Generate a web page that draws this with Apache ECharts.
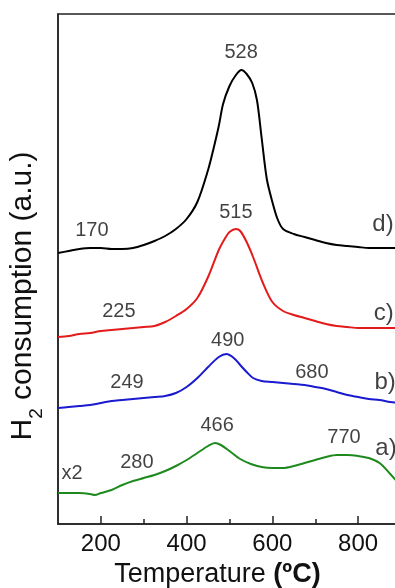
<!DOCTYPE html>
<html>
<head>
<meta charset="utf-8">
<script src="https://cdn.jsdelivr.net/npm/echarts@6/dist/echarts.min.js"></script>
<style>html,body{margin:0;padding:0;background:#fff;}#c{width:395px;height:588px;}</style>
</head>
<body>
<div id="c"></div>
<script>
// Temperatures (ºC) and H2 consumption (a.u.) per sample
const tempD = [100,125,150,175,200,225,250,275,300,325,350,375,400,425,450,462,475,485,500,515,528,540,553,564,575,587,600,612,625,650,675,700,725,750,775,800,825,850,875,900];
const valD  = [271,273,275,276,276,275,275,276,279,283,288,295,305,322,354,374,398,420,438,449,454,450,441,424,386,345,322,305,295,290,287,284,281,279,278,277,276,276,276,276];

const tempC = [100,125,150,175,200,225,250,275,300,325,350,375,400,425,450,475,490,500,515,525,540,555,578,600,625,650,675,700,725,750,775,800,825,850,875,900];
const valC  = [187,188,190,191,193,194,195,196,197,198,202,208,215,226,247,274,286,292,295,293,282,267,241,222,213,209,206,203,200,198,197,196,196,196,196,196];

const tempB = [100,125,150,175,200,225,250,275,300,325,350,375,400,425,450,475,493,510,525,540,555,575,600,625,650,675,700,725,750,775,800,825,850,875,900];
const valB  = [116,117,118,119,121,123,124,125,126,127,128,131,137,146,157,167,170,166,159,152,146,143,142,141,140,139,137,135,132,129,127,125,124,122,121];

const tempA = [100,125,150,175,186,200,225,250,275,300,325,350,375,400,425,450,466,480,500,525,550,575,600,625,650,675,700,725,750,775,800,825,850,875,900];
const valA  = [31,31,31,30,29,31,34,39,43,46,49,53,58,64,71,78,81,79,73,65,60,57,56,56,58,61,64,67,69,69,68,66,61,50,38];

// Annotations: [temperature, value, text]
const peakLabels = [
  [527,472,'528'],[179,294,'170'],
  [515,312,'515'],[242,213,'225'],
  [496,184,'490'],[261,142,'249'],[692,152,'680'],
  [471,99,'466'],[767,87,'770'],[284,62,'280'],[133,51,'x2']
];
const curveLabels = [[858,300,'d)'],[860,211,'c)'],[863,142,'b)'],[865,76,'a)']];

const majorTicks = [200,400,600,800];
const minorTicks = [300,500,700];

const font = 'Liberation Sans, Arial, sans-serif';
const ink = '#111111';
const pairs = (t,v) => t.map((x,i)=>[x,v[i]]);
const lineSeries = (t,v,color) => ({
  type:'line', data:pairs(t,v), showSymbol:false, smooth:0.3,
  lineStyle:{color:color,width:2}, itemStyle:{color:color}, animation:false, z:3
});
const textSeries = (arr,size) => ({
  type:'scatter', data:arr, symbolSize:1, itemStyle:{color:'rgba(0,0,0,0)'},
  label:{show:true, position:'inside', formatter:p=>p.data[2], fontSize:size, color:ink, fontFamily:font},
  animation:false, z:4, silent:true
});

const chart = echarts.init(document.getElementById('c'), null, {renderer:'canvas'});
chart.setOption({
  backgroundColor:'#fff',
  animation:false,
  grid:{left:58, right:-6, top:14, bottom:64, containLabel:false, outerBoundsMode:'none',
        show:true, borderColor:'#222', borderWidth:1.5, backgroundColor:'transparent'},
  xAxis:[{
    type:'value', min:100, max:900, interval:100,
    name:'{n|Temperature }{b|(ºC)}', nameLocation:'middle', nameGap:36,
    nameTextStyle:{padding:[0,24,0,0], rich:{n:{fontSize:27,fontFamily:font,color:ink},b:{fontSize:27,fontFamily:font,color:ink,fontWeight:'bold'}}},
    axisLine:{show:true, lineStyle:{color:'#222',width:1.5}},
    axisTick:{show:true, inside:true, length:8, customValues:majorTicks, lineStyle:{color:'#222',width:1.5}},
    axisLabel:{show:true, customValues:majorTicks, fontSize:24, color:ink, fontFamily:font, margin:8},
    splitLine:{show:false}
  },{
    type:'value', min:100, max:900, interval:100, position:'bottom',
    axisLine:{show:false},
    axisTick:{show:true, inside:true, length:5, customValues:minorTicks, lineStyle:{color:'#222',width:1.5}},
    axisLabel:{show:false}, splitLine:{show:false}
  }],
  yAxis:{
    type:'value', min:0, max:510,
    name:'{m|H}{s|2}{m| consumption (a.u.)}', nameLocation:'middle', nameGap:12,
    nameTextStyle:{padding:[0,54,0,0], rich:{
      m:{fontSize:30, lineHeight:47, fontFamily:font, color:ink},
      s:{fontSize:19, lineHeight:18, padding:[29,0,0,0], fontFamily:font, color:ink}
    }},
    axisLine:{show:true, lineStyle:{color:'#222',width:1.5}},
    axisTick:{show:false}, axisLabel:{show:false}, splitLine:{show:false}
  },
  series:[
    lineSeries(tempA,valA,'#1e8a1e'),
    lineSeries(tempB,valB,'#1a1ad0'),
    lineSeries(tempC,valC,'#e31b1b'),
    lineSeries(tempD,valD,'#000000'),
    textSeries(peakLabels,20),
    textSeries(curveLabels,24)
  ]
});
</script>
</body>
</html>
